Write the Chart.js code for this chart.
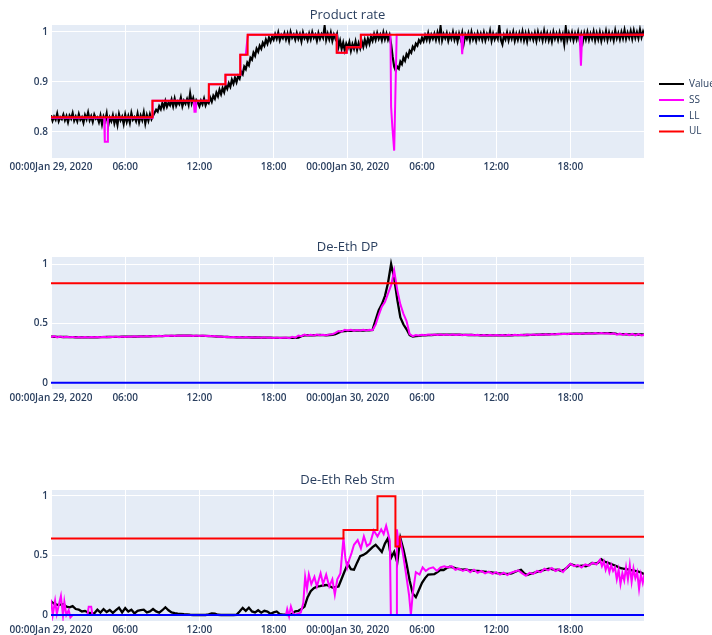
<!DOCTYPE html>
<html lang="en">
<head>
<meta charset="utf-8" />
<title>Product rate / De-Eth DP / De-Eth Reb Stm</title>
<script src="https://cdn.jsdelivr.net/npm/chart.js"></script>
<style>
  body { margin: 0; background: #fff; }
  canvas { position: absolute; left: 0; }
</style>
</head>
<body>
<canvas id="rate" width="712" height="180" style="top:0px"></canvas>
<canvas id="dp" width="712" height="180" style="top:232px"></canvas>
<canvas id="stm" width="712" height="170" style="top:465px"></canvas>
<script>
// time axis: hours since 2020-01-29 00:00
const STEP = 0.25;        // 15 min samples
const RATE_STEP = 0.125;  // product rate is logged every 7.5 min
const tickHours = [0, 6, 12, 18, 24, 30, 36, 42];
const tickLabels = ['00:00Jan 29, 2020', '06:00', '12:00', '18:00', '00:00Jan 30, 2020', '06:00', '12:00', '18:00'];
const seriesNames = ['Value', 'SS', 'LL', 'UL'];
const seriesColors = ['#000000', '#ff00ff', '#0000ff', '#ff0000'];

// ---- Product rate (one row per hour) ----
const rateValue = [
  0.833, 0.822, 0.830, 0.824, 0.836, 0.821, 0.829, 0.825,
  0.834, 0.823, 0.831, 0.819, 0.832, 0.826, 0.837, 0.822,
  0.830, 0.821, 0.835, 0.824, 0.829, 0.818, 0.833, 0.825,
  0.838, 0.823, 0.831, 0.820, 0.834, 0.826, 0.829, 0.819,
  0.832, 0.815, 0.830, 0.822, 0.836, 0.812, 0.828, 0.821,
  0.833, 0.817, 0.829, 0.814, 0.835, 0.823, 0.830, 0.816,
  0.834, 0.820, 0.831, 0.818, 0.837, 0.824, 0.829, 0.821,
  0.836, 0.819, 0.832, 0.823, 0.838, 0.817, 0.833, 0.822,
  0.835, 0.825, 0.832, 0.838, 0.844, 0.840, 0.851, 0.845,
  0.857, 0.848, 0.861, 0.850, 0.858, 0.853, 0.864, 0.851,
  0.866, 0.852, 0.860, 0.855, 0.868, 0.851, 0.862, 0.856,
  0.865, 0.854, 0.876, 0.857, 0.867, 0.853, 0.863, 0.858,
  0.851, 0.862, 0.855, 0.866, 0.853, 0.861, 0.857, 0.868,
  0.860, 0.872, 0.866, 0.878, 0.871, 0.884, 0.875, 0.887,
  0.879, 0.893, 0.886, 0.897, 0.890, 0.904, 0.896, 0.908,
  0.899, 0.911, 0.906, 0.920, 0.915, 0.930, 0.925, 0.938,
  0.933, 0.948, 0.944, 0.958, 0.952, 0.966, 0.960, 0.972,
  0.966, 0.978, 0.972, 0.984, 0.976, 0.988, 0.980, 0.990,
  0.984, 0.995, 0.986, 0.998, 0.983, 0.993, 0.987, 0.997,
  0.985, 0.996, 0.982, 0.999, 0.988, 0.994, 0.984, 0.997,
  0.986, 0.995, 0.981, 0.998, 0.987, 0.993, 0.983, 0.996,
  0.985, 0.999, 0.988, 0.994, 0.982, 0.997, 0.986, 0.995,
  0.988, 1.011, 0.984, 0.996, 0.985, 0.998, 0.982, 0.994,
  0.986, 0.995, 0.970, 0.982, 0.966, 0.978, 0.963, 0.976,
  0.968, 0.979, 0.962, 0.975, 0.966, 0.980, 0.964, 0.977,
  0.967, 0.981, 0.970, 0.984, 0.973, 0.986, 0.976, 0.990,
  0.982, 0.995, 0.984, 0.997, 0.986, 0.994, 0.983, 0.998,
  0.985, 0.996, 0.984, 0.993, 0.975, 0.950, 0.930, 0.922,
  0.930, 0.926, 0.940, 0.935, 0.948, 0.942, 0.955, 0.950,
  0.962, 0.958, 0.970, 0.965, 0.976, 0.972, 0.983, 0.978,
  0.988, 0.981, 0.993, 0.984, 0.997, 0.983, 0.994, 0.986,
  0.996, 0.984, 0.998, 0.985, 1.010, 0.983, 0.995, 0.987,
  0.997, 0.982, 0.994, 0.986, 0.999, 0.984, 0.995, 0.981,
  0.996, 0.985, 0.998, 0.977, 0.994, 0.986, 0.997, 0.983,
  0.999, 0.985, 0.994, 0.982, 0.997, 0.986, 0.996, 0.984,
  0.998, 0.983, 0.995, 0.987, 1.001, 0.982, 0.996, 0.985,
  0.994, 0.986, 1.011, 0.984, 0.975, 0.993, 0.985, 0.998,
  0.983, 0.996, 0.986, 0.999, 0.982, 0.995, 0.984, 0.997,
  0.985, 1.000, 0.983, 0.996, 0.981, 0.998, 0.986, 0.995,
  0.984, 0.997, 0.982, 0.999, 0.986, 0.996, 0.983, 1.001,
  0.985, 0.997, 0.983, 0.995, 0.981, 0.999, 0.986, 0.996,
  0.984, 0.998, 0.985, 0.995, 0.976, 1.008, 0.984, 0.997,
  0.986, 0.998, 0.983, 0.996, 0.985, 0.999, 0.982, 0.995,
  0.980, 0.997, 0.985, 0.999, 0.984, 0.996, 0.986, 1.000,
  0.983, 0.997, 0.985, 0.999, 0.982, 0.996, 0.986, 1.001,
  0.984, 0.998, 0.986, 0.996, 0.983, 1.002, 0.987, 0.997,
  0.985, 0.999, 0.987, 1.003, 0.986, 0.998, 0.988, 1.001,
  0.986, 1.002, 0.988, 0.999, 0.987, 1.004, 0.989, 1.000,
  0.991
];
const rateSsTimes = [0, 4.3, 4.35, 4.55, 4.6, 8.2, 8.22, 11.55, 11.6, 11.7, 11.75, 12.76, 12.78,
  14.1, 14.12, 15.3, 15.32, 15.75, 15.9, 15.92, 23.1, 23.12, 23.9, 23.92, 25.05, 25.07,
  27.45, 27.5, 27.6, 27.75, 27.95, 33.15, 33.25, 33.35, 42.75, 42.85, 42.95, 48];
const rateSsValues = [0.828, 0.828, 0.780, 0.780, 0.828, 0.828, 0.862, 0.862, 0.840, 0.840, 0.862, 0.862, 0.895,
  0.895, 0.914, 0.914, 0.954, 0.954, 0.990, 0.994, 0.994, 0.958, 0.958, 0.969, 0.969, 0.994,
  0.994, 0.850, 0.810, 0.762, 0.994, 0.994, 0.955, 0.994, 0.994, 0.932, 0.994, 0.994];
const rateUlTimes = [0, 8.2, 12.76, 14.1, 15.3, 15.9, 23.1, 23.9, 25.05, 48];
const rateUlValues = [0.829, 0.862, 0.895, 0.914, 0.954, 0.994, 0.958, 0.969, 0.994, 0.994];

// ---- De-Eth DP ----
const dpValue = [
  0.388, 0.387, 0.386, 0.386, 0.385, 0.385, 0.384, 0.384, 0.383, 0.383, 0.382, 0.382,
  0.382, 0.382, 0.383, 0.383, 0.384, 0.384, 0.385, 0.385, 0.386, 0.386, 0.386, 0.387,
  0.387, 0.388, 0.388, 0.389, 0.389, 0.390, 0.390, 0.391, 0.391, 0.392, 0.392, 0.393,
  0.393, 0.394, 0.394, 0.395, 0.395, 0.396, 0.396, 0.396, 0.396, 0.396, 0.395, 0.395,
  0.395, 0.395, 0.394, 0.393, 0.392, 0.391, 0.389, 0.388, 0.386, 0.385, 0.384, 0.384,
  0.383, 0.383, 0.382, 0.382, 0.382, 0.381, 0.381, 0.381, 0.380, 0.380, 0.379, 0.379,
  0.378, 0.378, 0.377, 0.377, 0.377, 0.377, 0.378, 0.378, 0.380, 0.392, 0.398, 0.400,
  0.401, 0.400, 0.401, 0.402, 0.401, 0.400, 0.402, 0.404, 0.410, 0.422, 0.432, 0.434,
  0.436, 0.437, 0.438, 0.438, 0.439, 0.440, 0.441, 0.442, 0.445, 0.530, 0.610, 0.660,
  0.730, 0.840, 1.000, 0.880, 0.700, 0.550, 0.490, 0.450, 0.400, 0.388, 0.392, 0.394,
  0.398, 0.400, 0.401, 0.402, 0.403, 0.404, 0.404, 0.405, 0.405, 0.405, 0.404, 0.404,
  0.404, 0.403, 0.403, 0.402, 0.402, 0.401, 0.401, 0.400, 0.400, 0.400, 0.399, 0.399,
  0.399, 0.399, 0.400, 0.400, 0.400, 0.400, 0.401, 0.401, 0.401, 0.402, 0.402, 0.403,
  0.403, 0.404, 0.405, 0.406, 0.407, 0.408, 0.409, 0.410, 0.410, 0.411, 0.411, 0.412,
  0.412, 0.413, 0.413, 0.414, 0.414, 0.415, 0.415, 0.416, 0.416, 0.417, 0.417, 0.417,
  0.418, 0.417, 0.415, 0.412, 0.410, 0.409, 0.408, 0.408, 0.407, 0.407, 0.406, 0.406,
  0.405
];
const dpSs = [
  0.384, 0.392, 0.381, 0.389, 0.384, 0.387, 0.383, 0.386, 0.381, 0.385, 0.380, 0.384,
  0.381, 0.385, 0.382, 0.386, 0.383, 0.388, 0.384, 0.387, 0.385, 0.389, 0.384, 0.389,
  0.386, 0.390, 0.387, 0.391, 0.388, 0.392, 0.389, 0.393, 0.390, 0.394, 0.391, 0.395,
  0.392, 0.396, 0.393, 0.397, 0.394, 0.398, 0.395, 0.398, 0.395, 0.398, 0.394, 0.397,
  0.394, 0.397, 0.393, 0.395, 0.391, 0.393, 0.388, 0.390, 0.385, 0.387, 0.383, 0.386,
  0.382, 0.385, 0.381, 0.384, 0.381, 0.383, 0.380, 0.383, 0.379, 0.382, 0.378, 0.381,
  0.377, 0.380, 0.376, 0.379, 0.380, 0.374, 0.386, 0.379, 0.398, 0.392, 0.405, 0.397,
  0.404, 0.398, 0.405, 0.400, 0.403, 0.399, 0.405, 0.409, 0.420, 0.436, 0.430, 0.446,
  0.440, 0.446, 0.438, 0.444, 0.439, 0.445, 0.440, 0.446, 0.442, 0.490, 0.570, 0.640,
  0.680, 0.750, 0.820, 0.945, 0.780, 0.660, 0.580, 0.520, 0.410, 0.392, 0.402, 0.398,
  0.404, 0.399, 0.405, 0.401, 0.406, 0.402, 0.407, 0.403, 0.406, 0.401, 0.405, 0.402,
  0.405, 0.400, 0.404, 0.401, 0.404, 0.399, 0.403, 0.398, 0.402, 0.397, 0.401, 0.398,
  0.401, 0.397, 0.402, 0.398, 0.403, 0.398, 0.403, 0.399, 0.404, 0.400, 0.405, 0.401,
  0.406, 0.402, 0.407, 0.404, 0.409, 0.405, 0.411, 0.407, 0.412, 0.408, 0.413, 0.409,
  0.414, 0.410, 0.415, 0.411, 0.416, 0.412, 0.417, 0.413, 0.418, 0.414, 0.419, 0.415,
  0.417, 0.410, 0.416, 0.405, 0.413, 0.402, 0.412, 0.400, 0.411, 0.399, 0.410, 0.398,
  0.404
];
const dpLimitTimes = [0, 48];
const dpLl = [0, 0];
const dpUl = [0.837, 0.837];

// ---- De-Eth Reb Stm ----
const stmValue = [
  0.115, 0.095, 0.085, 0.088, 0.090, 0.070, 0.064, 0.075, 0.050, 0.045, 0.030, 0.035,
  0.020, 0.015, 0.014, 0.045, 0.020, 0.050, 0.025, 0.042, 0.018, 0.040, 0.062, 0.022,
  0.058, 0.030, 0.045, 0.014, 0.035, 0.040, 0.045, 0.022, 0.030, 0.050, 0.030, 0.020,
  0.040, 0.065, 0.040, 0.022, 0.015, 0.012, 0.010, 0.007, 0.005, 0.002, 0.000, 0.000,
  0.000, 0.000, 0.000, 0.005, 0.014, 0.012, 0.002, 0.000, 0.000, 0.000, 0.000, 0.000,
  0.002, 0.030, 0.060, 0.035, 0.062, 0.030, 0.022, 0.040, 0.020, 0.035, 0.028, 0.010,
  0.022, 0.030, 0.008, 0.004, 0.002, 0.000, 0.010, 0.030, 0.035, 0.050, 0.070, 0.150,
  0.200, 0.225, 0.238, 0.242, 0.248, 0.252, 0.245, 0.230, 0.235, 0.240, 0.305, 0.370,
  0.430, 0.385, 0.380, 0.440, 0.495, 0.505, 0.520, 0.545, 0.570, 0.590, 0.560, 0.530,
  0.600, 0.645, 0.480, 0.530, 0.440, 0.645, 0.550, 0.430, 0.290, 0.180, 0.150, 0.210,
  0.270, 0.310, 0.340, 0.342, 0.344, 0.360, 0.380, 0.378, 0.395, 0.405, 0.400, 0.392,
  0.386, 0.382, 0.384, 0.378, 0.375, 0.372, 0.370, 0.368, 0.365, 0.362, 0.360, 0.356,
  0.352, 0.350, 0.348, 0.346, 0.345, 0.350, 0.362, 0.372, 0.380, 0.352, 0.336, 0.345,
  0.352, 0.360, 0.368, 0.375, 0.382, 0.390, 0.385, 0.378, 0.380, 0.370, 0.380, 0.400,
  0.428, 0.420, 0.410, 0.412, 0.415, 0.410, 0.420, 0.437, 0.432, 0.440, 0.468, 0.450,
  0.440, 0.430, 0.420, 0.410, 0.395, 0.390, 0.385, 0.382, 0.375, 0.370, 0.364, 0.355,
  0.340
];
const stmSsTimes = [
  0.00, 0.14, 0.33, 0.47, 0.60, 0.80, 0.97, 1.08, 1.24, 1.43, 1.57, 1.75, 2.95, 3.05, 3.25, 3.35,
  19.00, 19.10, 19.25, 19.40, 19.55, 19.70, 20.20, 20.40, 20.55, 20.70, 20.85, 21.05, 21.30, 21.50,
  21.80, 22.00, 22.25, 22.50, 22.75, 22.95, 23.15, 23.40, 23.65, 23.80, 23.95, 24.10, 24.30, 24.50,
  24.80, 25.06, 25.30, 25.55, 25.80, 26.10, 26.40, 26.70, 26.90, 27.10, 27.25, 27.40, 27.48, 27.90,
  27.97, 28.10, 28.25, 28.45, 28.70, 28.95, 29.10, 29.25, 29.50, 29.80, 30.05, 30.30, 30.55, 30.90,
  31.20, 31.50, 31.80, 32.10, 32.40, 32.70, 33.00, 33.30, 33.60, 33.90, 34.20, 34.50, 34.80, 35.10,
  35.40, 35.70, 36.00, 36.30, 36.60, 36.90, 37.20, 37.50, 37.80, 38.10, 38.40, 38.70, 39.00, 39.30,
  39.60, 39.90, 40.20, 40.50, 40.80, 41.10, 41.40, 41.70, 42.00, 42.30, 42.60, 42.90, 43.20, 43.50,
  43.80, 44.10, 44.40, 44.55, 44.70, 44.85, 45.00, 45.15, 45.30, 45.45, 45.60, 45.75, 45.90, 46.05,
  46.20, 46.35, 46.50, 46.65, 46.80, 46.95, 47.10, 47.25, 47.40, 47.55, 47.70, 47.85, 48.00
];
const stmSsValues = [
  0.130, 0.000, 0.120, 0.010, 0.070, 0.160, -0.005, 0.110, 0.000, 0.040, -0.020, 0.000, 0.000, 0.070, 0.070, 0.000,
  0.000, 0.050, -0.010, 0.070, 0.020, 0.000, 0.020, 0.100, 0.320, 0.220, 0.340, 0.260, 0.320, 0.240,
  0.350, 0.260, 0.340, 0.240, 0.300, 0.170, 0.300, 0.350, 0.650, 0.480, 0.400, 0.460, 0.520, 0.590,
  0.630, 0.560, 0.660, 0.580, 0.600, 0.710, 0.660, 0.720, 0.680, 0.750, 0.690, 0.620, 0.000, 0.000,
  0.720, 0.600, 0.630, 0.520, 0.350, 0.170, 0.000, 0.180, 0.360, 0.340, 0.400, 0.370, 0.390, 0.400,
  0.370, 0.400, 0.410, 0.400, 0.410, 0.380, 0.390, 0.370, 0.385, 0.360, 0.380, 0.355, 0.370, 0.350,
  0.365, 0.345, 0.360, 0.340, 0.355, 0.335, 0.355, 0.365, 0.375, 0.350, 0.330, 0.355, 0.345, 0.370,
  0.360, 0.390, 0.375, 0.395, 0.370, 0.385, 0.360, 0.400, 0.430, 0.410, 0.420, 0.400, 0.425, 0.415,
  0.440, 0.425, 0.465, 0.410, 0.450, 0.380, 0.430, 0.360, 0.420, 0.370, 0.400, 0.300, 0.380, 0.260,
  0.350, 0.290, 0.400, 0.300, 0.420, 0.280, 0.390, 0.310, 0.360, 0.220, 0.340, 0.270, 0.350
];
const stmUlTimes = [0, 23.65, 26.4, 27.85, 28.2, 48];
const stmUlValues = [0.642, 0.714, 0.998, 0.575, 0.658, 0.658];
const stmLimitTimes = [0, 48];
const stmLl = [0, 0];

// ---- helpers ----
const onGrid = (vals, step) => vals.map((v, i) => ({ x: i * step, y: v }));
const pairs = (ts, vs) => ts.map((t, i) => ({ x: t, y: vs[i] }));
const FONT = '"Open Sans", sans-serif';
const INK = '#2a3f5f';

function series(k, data, extra) {
  return Object.assign({
    label: seriesNames[k],
    data: data,
    borderColor: seriesColors[k],
    backgroundColor: seriesColors[k],
    borderWidth: 2,
    pointRadius: 0,
    fill: false,
    tension: 0,
    order: 4 - k   // later traces on top
  }, extra || {});
}

const plotBg = {
  id: 'plotBg',
  beforeDraw(chart) {
    const a = chart.chartArea, ctx = chart.ctx;
    ctx.save();
    ctx.fillStyle = '#e5ecf6';
    ctx.fillRect(a.left, a.top, a.right - a.left, a.bottom - a.top);
    ctx.restore();
  }
};

function titlePlugin(text) {
  return {
    id: 'panelTitle',
    afterDraw(chart) {
      const a = chart.chartArea, ctx = chart.ctx;
      ctx.save();
      ctx.font = '13px ' + FONT;
      ctx.fillStyle = INK;
      ctx.textAlign = 'center';
      ctx.textBaseline = 'middle';
      ctx.fillText(text, (a.left + a.right) / 2, a.top - 10);
      ctx.restore();
    }
  };
}

// legend sits to the right of the top panel
const sideLegend = {
  id: 'sideLegend',
  afterDraw(chart) {
    const ctx = chart.ctx;
    const rows = [84, 100, 116, 131.5];
    ctx.save();
    ctx.font = '10px ' + FONT;
    ctx.textBaseline = 'middle';
    rows.forEach((y, k) => {
      ctx.strokeStyle = seriesColors[k];
      ctx.lineWidth = 2;
      ctx.beginPath();
      ctx.moveTo(659, y);
      ctx.lineTo(684, y);
      ctx.stroke();
      ctx.fillStyle = INK;
      ctx.fillText(seriesNames[k], 689, y);
    });
    ctx.restore();
  }
};

function panel(id, title, yMin, yMax, yTicks, axisHeight, datasets, extraPlugins) {
  const tickFont = { family: FONT, size: 10, weight: '600' };
  return new Chart(document.getElementById(id), {
    type: 'line',
    data: { datasets: datasets },
    options: {
      responsive: false,
      animation: false,
      devicePixelRatio: 1,
      layout: { padding: { left: 0, right: 68, top: 25, bottom: 0 } },
      plugins: { legend: { display: false }, tooltip: { enabled: false } },
      scales: {
        x: {
          type: 'linear',
          min: 0,
          max: 47.95,
          grid: { color: '#ffffff', lineWidth: 1, drawTicks: false },
          border: { display: false },
          ticks: {
            autoSkip: false, maxRotation: 0, minRotation: 0, padding: 3,
            color: INK, font: tickFont,
            callback: (v, i) => tickLabels[i]
          },
          afterBuildTicks: s => { s.ticks = tickHours.map(v => ({ value: v })); },
          afterFit: s => { s.height = axisHeight; }
        },
        y: {
          min: yMin,
          max: yMax,
          grid: { color: '#ffffff', lineWidth: 1, drawTicks: false },
          border: { display: false },
          ticks: {
            padding: 3, color: INK, font: tickFont,
            callback: v => String(v)
          },
          afterBuildTicks: s => { s.ticks = yTicks.map(v => ({ value: v })); },
          afterFit: s => { s.width = 51; }
        }
      }
    },
    plugins: [plotBg, titlePlugin(title)].concat(extraPlugins || [])
  });
}

panel('rate', 'Product rate', 0.7474, 1.0134, [0.8, 0.9, 1], 22, [
  series(0, onGrid(rateValue, RATE_STEP), { borderWidth: 2.2 }),
  series(1, pairs(rateSsTimes, rateSsValues)),
  series(3, pairs(rateUlTimes, rateUlValues), { stepped: 'before' })
], [sideLegend]);

panel('dp', 'De-Eth DP', -0.053, 1.059, [0, 0.5, 1], 23, [
  series(0, onGrid(dpValue, STEP), { borderWidth: 2.3 }),
  series(1, onGrid(dpSs, STEP)),
  series(2, pairs(dpLimitTimes, dpLl)),
  series(3, pairs(dpLimitTimes, dpUl))
]);

panel('stm', 'De-Eth Reb Stm', -0.0504, 1.0504, [0, 0.5, 1], 14, [
  series(0, onGrid(stmValue, STEP), { borderWidth: 2.3 }),
  series(1, pairs(stmSsTimes, stmSsValues)),
  series(2, pairs(stmLimitTimes, stmLl)),
  series(3, pairs(stmUlTimes, stmUlValues), { stepped: 'before' })
]);
</script>
</body>
</html>
